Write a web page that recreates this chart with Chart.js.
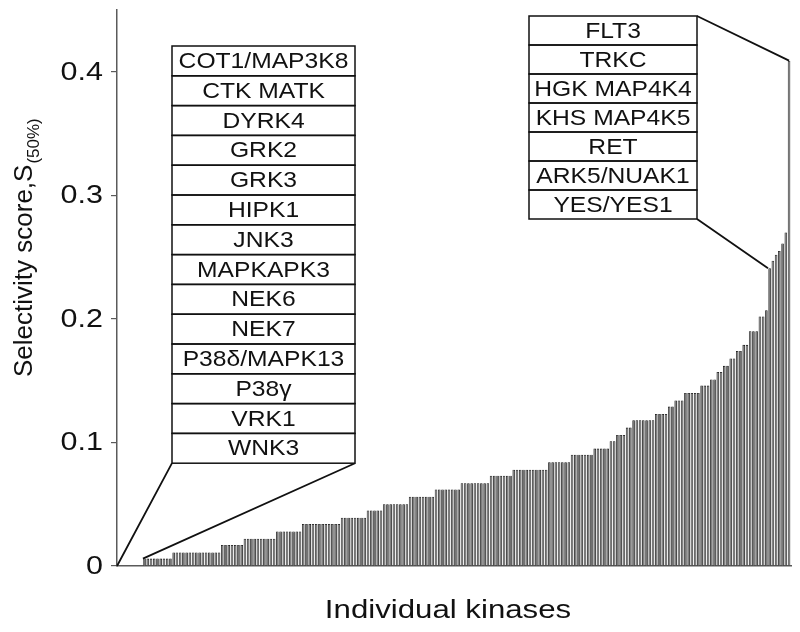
<!DOCTYPE html>
<html>
<head>
<meta charset="utf-8">
<script src="https://cdn.jsdelivr.net/npm/chart.js@4.4.1/dist/chart.umd.min.js"></script>
<style>
  html, body { margin: 0; padding: 0; background: #fff; }
  #wrap { width: 800px; height: 632px; }
</style>
</head>
<body>
<div id="wrap"><canvas id="kinaseChart" width="800" height="632"></canvas></div>
<script>
// kinases with score 0 (left callout) and the top seven (right callout, highest first)
const zeroKinases = ['COT1/MAP3K8', 'CTK MATK', 'DYRK4', 'GRK2', 'GRK3', 'HIPK1', 'JNK3',
    'MAPKAPK3', 'NEK6', 'NEK7', 'P38\u03b4/MAPK13', 'P38\u03b3', 'VRK1', 'WNK3'];
const topKinases = ['FLT3', 'TRKC', 'HGK MAP4K4', 'KHS MAP4K5', 'RET', 'ARK5/NUAK1', 'YES/YES1'];

// ranked selectivity scores of the remaining kinases (ascending)
const rankedScores = [
    0.006, 0.006, 0.006, 0.006, 0.006, 0.006, 0.006, 0.006, 0.006,
    0.011, 0.011, 0.011, 0.011, 0.011, 0.011, 0.011, 0.011, 0.011, 0.011, 0.011, 0.011, 0.011, 0.011, 0.011,
    0.017, 0.017, 0.017, 0.017, 0.017, 0.017, 0.017,
    0.022, 0.022, 0.022, 0.022, 0.022, 0.022, 0.022, 0.022, 0.022, 0.022,
    0.028, 0.028, 0.028, 0.028, 0.028, 0.028, 0.028, 0.028,
    0.034, 0.034, 0.034, 0.034, 0.034, 0.034, 0.034, 0.034, 0.034, 0.034, 0.034, 0.034,
    0.039, 0.039, 0.039, 0.039, 0.039, 0.039, 0.039, 0.039,
    0.045, 0.045, 0.045, 0.045, 0.045,
    0.050, 0.050, 0.050, 0.050, 0.050, 0.050, 0.050, 0.050,
    0.056, 0.056, 0.056, 0.056, 0.056, 0.056, 0.056, 0.056,
    0.062, 0.062, 0.062, 0.062, 0.062, 0.062, 0.062, 0.062,
    0.067, 0.067, 0.067, 0.067, 0.067, 0.067, 0.067, 0.067, 0.067,
    0.073, 0.073, 0.073, 0.073, 0.073, 0.073, 0.073,
    0.078, 0.078, 0.078, 0.078, 0.078, 0.078, 0.078, 0.078, 0.078, 0.078, 0.078,
    0.084, 0.084, 0.084, 0.084, 0.084, 0.084, 0.084,
    0.090, 0.090, 0.090, 0.090, 0.090, 0.090, 0.090,
    0.095, 0.095, 0.095, 0.095, 0.095,
    0.101, 0.101,
    0.106, 0.106, 0.106,
    0.112, 0.112,
    0.118, 0.118, 0.118, 0.118, 0.118, 0.118, 0.118,
    0.123, 0.123, 0.123, 0.123,
    0.129, 0.129,
    0.134, 0.134, 0.134,
    0.140, 0.140, 0.140, 0.140, 0.140,
    0.146, 0.146, 0.146,
    0.151, 0.151,
    0.157, 0.157,
    0.162, 0.162,
    0.168, 0.168,
    0.174, 0.174,
    0.179, 0.179,
    0.190, 0.190, 0.190,
    0.202, 0.202,
    0.207
];
// scores of the top seven, ascending (YES/YES1 ... FLT3)
const topScores = [0.241, 0.247, 0.252, 0.255, 0.261, 0.270, 0.409];

const yTicks = [0, 0.1, 0.2, 0.3, 0.4];

const allScores = rankedScores.concat(topScores);
const points = allScores.map((v, i) => ({ x: i, y: v }));

const AXIS = '#5a5a5a';
const FONT = '"Liberation Sans", Arial, Helvetica, sans-serif';

function wideText(ctx, text, x, y, sx) {
    ctx.save();
    ctx.translate(x, y);
    ctx.scale(sx, 1);
    ctx.fillText(text, 0, 0);
    ctx.restore();
}

function drawCallout(ctx, names, left, top, right, rowH) {
    ctx.save();
    ctx.fillStyle = '#fff';
    ctx.fillRect(left, top, right - left, rowH * names.length);
    ctx.strokeStyle = '#111';
    ctx.lineWidth = 1.5;
    ctx.font = '22px ' + FONT;
    ctx.textAlign = 'center';
    ctx.textBaseline = 'middle';
    names.forEach((name, i) => {
        const y = top + i * rowH;
        ctx.strokeRect(left, y, right - left, rowH);
        ctx.fillStyle = '#111';
        wideText(ctx, name, (left + right) / 2, y + rowH / 2 + 1, 1.12);
    });
    ctx.restore();
}

const annotations = {
    id: 'annotations',
    afterDatasetsDraw(chart) {
        const ctx = chart.ctx;
        const xs = chart.scales.x;
        const ys = chart.scales.y;
        const half = (xs.getPixelForValue(1) - xs.getPixelForValue(0)) / 2;

        // left callout: kinases with zero score, pointing at the origin
        const lBox = { left: 172, top: 46, right: 355, rowH: 29.8 };
        const lBottom = lBox.top + lBox.rowH * zeroKinases.length;
        ctx.save();
        ctx.strokeStyle = '#111';
        ctx.lineWidth = 1.8;
        ctx.beginPath();
        ctx.moveTo(lBox.left, lBottom);
        ctx.lineTo(xs.left, ys.getPixelForValue(0));
        ctx.moveTo(lBox.right, lBottom);
        ctx.lineTo(xs.getPixelForValue(0) - half, ys.getPixelForValue(rankedScores[0]));

        // right callout: the seven least selective kinases
        const rBox = { left: 529, top: 16, right: 697, rowH: 29 };
        const rBottom = rBox.top + rBox.rowH * topKinases.length;
        const last = allScores.length - 1;
        const first = allScores.length - topScores.length;
        ctx.moveTo(rBox.right, rBox.top);
        ctx.lineTo(xs.getPixelForValue(last), ys.getPixelForValue(allScores[last]));
        ctx.moveTo(rBox.right, rBottom);
        ctx.lineTo(xs.getPixelForValue(first) - half, ys.getPixelForValue(allScores[first]));
        ctx.stroke();
        ctx.restore();

        drawCallout(ctx, zeroKinases, lBox.left, lBox.top, lBox.right, lBox.rowH);
        drawCallout(ctx, topKinases, rBox.left, rBox.top, rBox.right, rBox.rowH);
    },
    afterDraw(chart) {
        const ctx = chart.ctx;
        const ys = chart.scales.y;
        ctx.save();
        ctx.fillStyle = '#111';

        // y tick labels
        ctx.font = '25px ' + FONT;
        ctx.textAlign = 'right';
        ctx.textBaseline = 'middle';
        yTicks.forEach(v => {
            wideText(ctx, v === 0 ? '0' : v.toFixed(1), 103, ys.getPixelForValue(v) + 1, 1.22);
        });

        // x title
        ctx.font = '26px ' + FONT;
        ctx.textAlign = 'center';
        ctx.textBaseline = 'alphabetic';
        wideText(ctx, 'Individual kinases', 448, 618, 1.2);

        // y title with subscript
        ctx.translate(32, 377);
        ctx.rotate(-Math.PI / 2);
        ctx.textAlign = 'left';
        ctx.font = '26px ' + FONT;
        const main = 'Selectivity score,S';
        ctx.fillText(main, 0, 0);
        const w = ctx.measureText(main).width;
        ctx.font = '17px ' + FONT;
        ctx.fillText('(50%)', w + 1, 7);
        ctx.restore();
    }
};

new Chart(document.getElementById('kinaseChart'), {
    type: 'bar',
    data: {
        datasets: [{
            data: points,
            backgroundColor: '#6e6e6e',
            borderColor: '#111',
            borderWidth: 0.8,
            categoryPercentage: 1,
            barPercentage: 0.8
        }]
    },
    options: {
        responsive: false,
        devicePixelRatio: 1,
        animation: false,
        layout: { padding: { top: 10, right: 9, left: 0, bottom: 0 } },
        plugins: {
            legend: { display: false },
            tooltip: { enabled: false }
        },
        scales: {
            x: {
                type: 'linear',
                offset: false,
                min: -8.5,
                max: allScores.length - 0.4,
                grid: { display: false, offset: false },
                ticks: { display: false },
                border: { display: true, color: AXIS, width: 1.5 },
                afterFit: function(scale) { scale.height = 66; }
            },
            y: {
                min: 0,
                max: 0.45,
                grid: {
                    drawOnChartArea: false,
                    drawTicks: true,
                    tickLength: 6,
                    color: AXIS,
                    lineWidth: 1.2
                },
                ticks: { display: false },
                border: { display: true, color: AXIS, width: 1.5 },
                afterBuildTicks: function(scale) {
                    scale.ticks = yTicks.map(v => ({ value: v }));
                },
                afterFit: function(scale) { scale.width = 117; }
            }
        }
    },
    plugins: [annotations]
});
</script>
</body>
</html>
